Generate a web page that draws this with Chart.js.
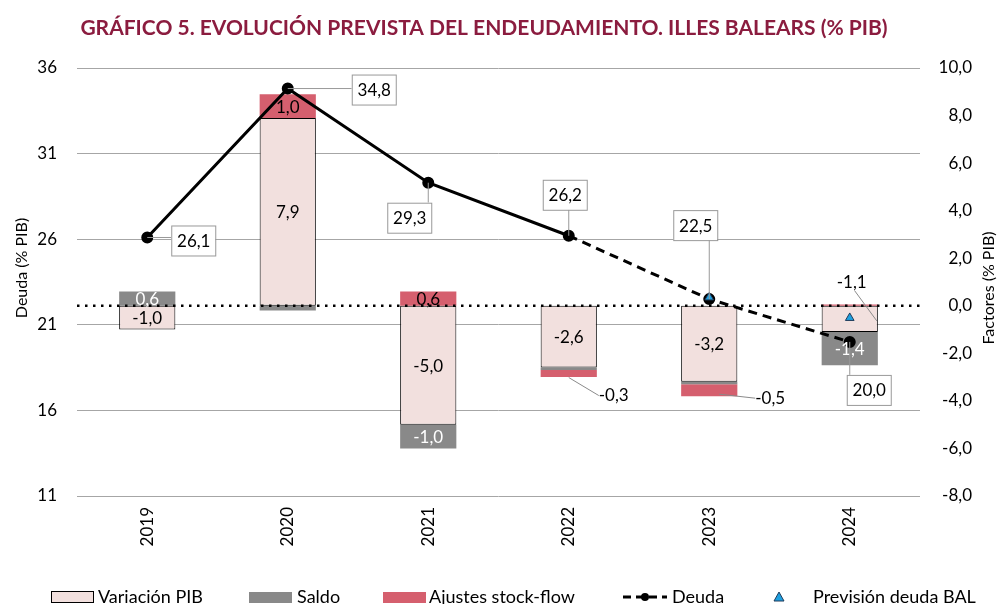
<!DOCTYPE html>
<html>
<head>
<meta charset="utf-8">
<script src="https://cdn.jsdelivr.net/npm/chart.js@4.4.1/dist/chart.umd.min.js"></script>
<style>
  html, body { margin: 0; padding: 0; background: #fff; }
</style>
</head>
<body>
<canvas id="grafico" width="998" height="604"></canvas>
<script>
// datos
const years = ['2019', '2020', '2021', '2022', '2023', '2024'];
const variacionPib = [-1.0, 7.9, -5.0, -2.6, -3.2, -1.1];
const saldo = [0.6, -0.2, -1.0, -0.1, -0.1, -1.4];
const ajustes = [0, 1.0, 0.6, -0.3, -0.5, 0.05];
const deuda = [26.1, 34.8, 29.3, 26.2, 22.5, 20.0];
const prevision = [null, null, null, null, 22.6, 21.4];
const deudaTicks = [11, 16, 21, 26, 31, 36];
const factoresTicks = [-8, -6, -4, -2, 0, 2, 4, 6, 8, 10];

const TITULO = 'GRÁFICO 5. EVOLUCIÓN PREVISTA DEL ENDEUDAMIENTO. ILLES BALEARS (% PIB)';
const FONT = 'Lato';
const fmt = v => v.toFixed(1).replace('.', ',');

const COLOR_PIB = '#f2e0de';
const COLOR_SALDO = '#898989';
const COLOR_AJUSTES = '#d55f6e';
const COLOR_PREV = '#1ea0e0';

// etiquetas de barras que van fuera, con línea guía
const fuera = [
    { ds: 0, i: 5, tx: 2, ty: -36, ax: 27, ay: 2, bx: 5, by: -28 },
    { ds: 2, i: 3, tx: 45, ty: 22, ax: 0, ay: 4, bx: 30, by: 22 },
    { ds: 2, i: 4, tx: 61, ty: 8, ax: 10, ay: 4, bx: 46, by: 8 }
];
// posición de las cajas de deuda respecto al punto
const cajas = [[46, 3], [86, 1], [-19, 35], [-4, -41], [-14, -74], [19, 48]];

function leyendaIconos(ctx, y) {
    // Variación PIB
    ctx.fillStyle = COLOR_PIB;
    ctx.fillRect(51, y - 5, 42, 10);
    ctx.strokeStyle = '#000'; ctx.lineWidth = 1;
    ctx.strokeRect(51.5, y - 5.5, 42, 11);
    // Saldo
    ctx.fillStyle = COLOR_SALDO;
    ctx.fillRect(249, y - 5, 43, 11);
    // Ajustes
    ctx.fillStyle = COLOR_AJUSTES;
    ctx.fillRect(383, y - 5, 43, 11);
    // Deuda
    ctx.strokeStyle = '#000'; ctx.lineWidth = 3;
    ctx.setLineDash([8, 5]);
    ctx.beginPath(); ctx.moveTo(623, y); ctx.lineTo(667, y); ctx.stroke();
    ctx.setLineDash([]);
    ctx.fillStyle = '#000';
    ctx.beginPath(); ctx.arc(645, y, 4, 0, Math.PI * 2); ctx.fill();
    // Previsión
    ctx.fillStyle = COLOR_PREV; ctx.strokeStyle = '#1f3b5a'; ctx.lineWidth = 1;
    ctx.beginPath(); ctx.moveTo(779, y - 5); ctx.lineTo(784, y + 4); ctx.lineTo(774, y + 4); ctx.closePath();
    ctx.fill(); ctx.stroke();
}

const etiquetas = {
    id: 'etiquetas',
    afterDatasetDraw(chart, args) {
        if (args.index !== 0) return;
        const ctx = chart.ctx;
        const y0 = chart.scales.y1.getPixelForValue(0);
        ctx.save();
        ctx.strokeStyle = '#000';
        ctx.lineWidth = 2.5;
        ctx.setLineDash([2.5, 5.5]);
        ctx.beginPath();
        ctx.moveTo(chart.chartArea.left, y0);
        ctx.lineTo(chart.chartArea.right, y0);
        ctx.stroke();
        ctx.restore();
    },
    afterDatasetsDraw(chart) {
        const ctx = chart.ctx;
        ctx.save();
        ctx.font = '17px ' + FONT;
        ctx.textAlign = 'center';
        ctx.textBaseline = 'middle';

        [0, 1, 2].forEach(di => {
            const meta = chart.getDatasetMeta(di);
            meta.data.forEach((bar, i) => {
                const v = chart.data.datasets[di].data[i];
                if (Math.abs(v) < 0.25) return;
                const cy = (bar.y + bar.base) / 2;
                const f = fuera.find(o => o.ds === di && o.i === i);
                if (f) {
                    ctx.strokeStyle = '#8a8a8a';
                    ctx.lineWidth = 1;
                    ctx.beginPath();
                    ctx.moveTo(bar.x + f.ax, cy + f.ay);
                    ctx.lineTo(bar.x + f.bx, cy + f.by);
                    ctx.stroke();
                    ctx.fillStyle = '#000';
                    ctx.fillText(fmt(v), bar.x + f.tx, cy + f.ty);
                } else {
                    ctx.fillStyle = di === 1 ? '#fff' : '#000';
                    ctx.fillText(fmt(v), bar.x, cy + 1);
                }
            });
        });

        // cajas de deuda
        const meta = chart.getDatasetMeta(3);
        meta.data.forEach((pt, i) => {
            const [dx, dy] = cajas[i];
            const w = 44, h = 30;
            const cx = pt.x + dx, cy = pt.y + dy;
            const l = cx - w / 2, t = cy - h / 2;
            const nx = Math.max(l, Math.min(pt.x, l + w));
            const ny = Math.max(t, Math.min(pt.y, t + h));
            ctx.strokeStyle = '#999';
            ctx.lineWidth = 1;
            ctx.beginPath();
            ctx.moveTo(pt.x, pt.y);
            ctx.lineTo(nx, ny);
            ctx.stroke();
            ctx.fillStyle = '#fff';
            ctx.fillRect(l, t, w, h);
            ctx.strokeRect(l + 0.5, t + 0.5, w, h);
            ctx.fillStyle = '#000';
            ctx.fillText(fmt(deuda[i]), cx + 0.5, cy + 1);
        });
        ctx.restore();
    },
    afterDraw(chart) {
        const ctx = chart.ctx;
        ctx.save();
        ctx.textBaseline = 'middle';
        // título
        ctx.textAlign = 'center';
        ctx.fillStyle = '#8b1c3f';
        ctx.font = 'bold 21px ' + FONT;
        ctx.fillText(TITULO, 484, 28);
        // títulos de ejes, ambos girados hacia arriba
        ctx.fillStyle = '#000';
        ctx.font = '16px ' + FONT;
        [[22, 268, 'Deuda (% PIB)'], [989, 288, 'Factores (% PIB)']].forEach(([x, y, t]) => {
            ctx.save();
            ctx.translate(x, y);
            ctx.rotate(-Math.PI / 2);
            ctx.fillText(t, 0, 0);
            ctx.restore();
        });
        // leyenda
        const ly = 597;
        leyendaIconos(ctx, ly);
        ctx.fillStyle = '#000';
        ctx.textAlign = 'left';
        ctx.font = '18px ' + FONT;
        [[98, 'Variación PIB'], [297, 'Saldo'], [429, 'Ajustes stock-flow'], [672, 'Deuda'], [813, 'Previsión deuda BAL']]
            .forEach(([x, t]) => ctx.fillText(t, x, ly));
        ctx.restore();
    }
};

new Chart(document.getElementById('grafico'), {
    data: {
        labels: years,
        datasets: [
            {
                type: 'bar', label: 'Variación PIB', data: variacionPib, yAxisID: 'y1', stack: 'f', order: 2,
                backgroundColor: COLOR_PIB, borderColor: '#000', borderWidth: 1, borderSkipped: false,
                barPercentage: 0.4, categoryPercentage: 1
            },
            {
                type: 'bar', label: 'Saldo', data: saldo, yAxisID: 'y1', stack: 'f', order: 2,
                backgroundColor: COLOR_SALDO, borderWidth: 0, barPercentage: 0.4, categoryPercentage: 1
            },
            {
                type: 'bar', label: 'Ajustes stock-flow', data: ajustes, yAxisID: 'y1', stack: 'f', order: 2,
                backgroundColor: COLOR_AJUSTES, borderWidth: 0, barPercentage: 0.4, categoryPercentage: 1
            },
            {
                type: 'line', label: 'Deuda', data: deuda, yAxisID: 'y', order: 1,
                borderColor: '#000', borderWidth: 3, tension: 0,
                pointRadius: 4.5, pointBackgroundColor: '#000', pointBorderColor: '#000',
                segment: { borderDash: c => c.p0DataIndex >= 3 ? [9, 6] : undefined }
            },
            {
                type: 'line', label: 'Previsión deuda BAL', data: prevision, yAxisID: 'y', order: 0,
                showLine: false, pointStyle: 'triangle', pointRadius: 5,
                pointBackgroundColor: COLOR_PREV, pointBorderColor: '#1f3b5a', pointBorderWidth: 1
            }
        ]
    },
    options: {
        responsive: false,
        animation: false,
        devicePixelRatio: 1,
        layout: { padding: { left: 0, right: 26, top: 68, bottom: 48 } },
        plugins: {
            title: { display: false },
            legend: { display: false },
            tooltip: { enabled: false }
        },
        scales: {
            x: {
                stacked: true,
                afterFit: s => { s.height = 60; },
                grid: { display: false },
                border: { display: false },
                ticks: { minRotation: 90, maxRotation: 90, color: '#000', font: { family: FONT, size: 17 } }
            },
            y: {
                position: 'left', min: 11, max: 36,
                afterBuildTicks: s => { s.ticks = deudaTicks.map(v => ({ value: v })); },
                afterFit: s => { s.width = 77; },
                grid: { color: '#a6a6a6', lineWidth: 1, drawTicks: false },
                border: { display: false },
                ticks: { color: '#000', padding: 20, font: { family: FONT, size: 17 } }
            },
            y1: {
                position: 'right', stacked: true, min: -8, max: 10,
                afterBuildTicks: s => { s.ticks = factoresTicks.map(v => ({ value: v })); },
                afterFit: s => { s.width = 52; },
                grid: { display: false },
                border: { display: false },
                ticks: { color: '#000', padding: 7, crossAlign: 'far', font: { family: FONT, size: 17 }, callback: v => fmt(v) }
            }
        }
    },
    plugins: [etiquetas]
});
</script>
</body>
</html>
